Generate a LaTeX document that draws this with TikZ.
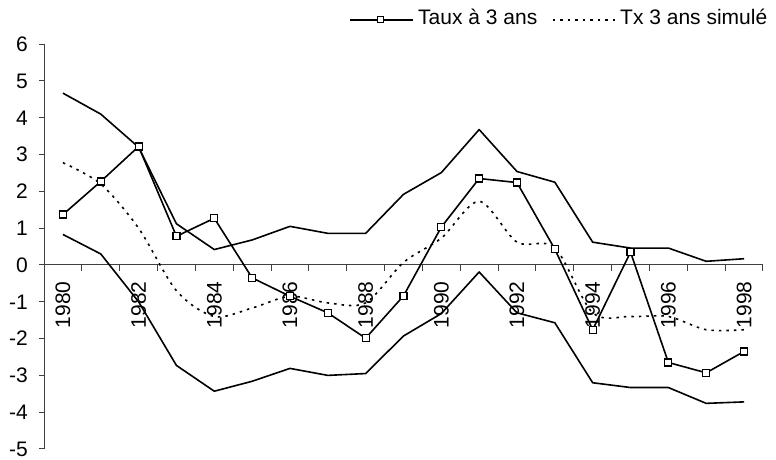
\documentclass[tikz,border=0pt]{standalone}
\usepackage{fontspec}
\setmainfont{Liberation Sans}
\usepackage{tikz}
\newcommand{\chartsize}{\fontsize{21}{25}\selectfont}
\tikzset{
    every node/.style={font=\chartsize, inner sep=0pt}
}
\tikzset{
    axisline/.style={draw=black!75, line width=1pt},
    band/.style={line width=1.6pt, line join=round},
    taux/.style={line width=1.6pt, line join=round},
    simul/.style={line width=1.6pt, dash pattern=on 2.5pt off 5pt},
    sq/.style={rectangle, draw, fill=white, line width=1.2pt, minimum size=7pt}
}
\begin{document}
\begin{tikzpicture}[x=37.84pt, y=36.8pt]
	\useasboundingbox (-1.163,-5.299) rectangle (19.345,7.201);

	% axes
	\draw[axisline] (0,-5) -- (0,6);
	\draw[axisline] (0,0) -- (19,0);
	\foreach \v in {-5,...,6} {
		\draw[axisline] (-0.12,\v) -- (0,\v);
		\node (y\v) [anchor=east] at (-0.42,\v) {\v};
	}
	\foreach \i in {1,...,19} \draw[axisline] (\i,0) -- (\i,-0.163);
	\foreach \k in {0,...,9} {
		\pgfmathtruncatemacro{\yr}{1980+2*\k}
		\node (x\k) [rotate=90, anchor=east] at (2*\k+0.5,-0.44) {\yr};
	}

	% bands
	\draw[band] plot coordinates {(0.5,4.67) (1.5,4.1) (2.5,3.2) (3.5,1.12) (4.5,0.42)
		(5.5,0.68) (6.5,1.05) (7.5,0.86) (8.5,0.86) (9.5,1.92) (10.5,2.51) (11.5,3.68)
		(12.5,2.54) (13.5,2.25) (14.5,0.62) (15.5,0.46) (16.5,0.46) (17.5,0.1) (18.5,0.17)};
	\draw[band] plot coordinates {(0.5,0.83) (1.5,0.3) (2.5,-1.0) (3.5,-2.73) (4.5,-3.43)
		(5.5,-3.16) (6.5,-2.81) (7.5,-3.0) (8.5,-2.95) (9.5,-1.93) (10.5,-1.32) (11.5,-0.19)
		(12.5,-1.3) (13.5,-1.57) (14.5,-3.2) (15.5,-3.33) (16.5,-3.33) (17.5,-3.76) (18.5,-3.72)};

	% simulated rate
	\draw[simul] plot[smooth] coordinates {(0.5,2.78) (1.5,2.2) (2.5,1.0) (3.5,-0.7) (4.5,-1.4)
		(5.5,-1.17) (6.5,-0.85) (7.5,-1.03) (8.5,-1.03) (9.5,0.07) (10.5,0.73) (11.5,1.73)
		(12.5,0.62) (13.5,0.47) (14.5,-1.3) (15.5,-1.4) (16.5,-1.4) (17.5,-1.76) (18.5,-1.76)};

	% observed rate
	\foreach \v [count=\i] in {1.37,2.27,3.22,0.78,1.27,-0.35,-0.85,-1.3,-1.99,-0.84,
		1.03,2.35,2.24,0.43,-1.76,0.35,-2.65,-2.93,-2.35}
		\coordinate (t\i) at (\i-0.5,\v);
	\draw[taux] (t1) \foreach \i in {2,...,19} { -- (t\i) };
	\foreach \i in {1,...,19} \node[sq] (m\i) at (t\i) {};

	% legend
	\coordinate (la) at (8.087,6.66);
	\coordinate (lb) at (9.752,6.66);
	\draw[taux] (la) -- (lb);
	\node[sq, minimum size=6pt, line width=1pt] (lm) at (8.880,6.66) {};
	\node (lt) [anchor=base west] at (9.884,6.522) {Taux à 3 ans};
	\coordinate (lc) at (13.451,6.66);
	\coordinate (ld) at (15.143,6.66);
	\draw[simul] (lc) -- (ld);
	\node (ls) [anchor=base west] at (15.222,6.522) {Tx 3 ans simulé};
\end{tikzpicture}
\end{document}
